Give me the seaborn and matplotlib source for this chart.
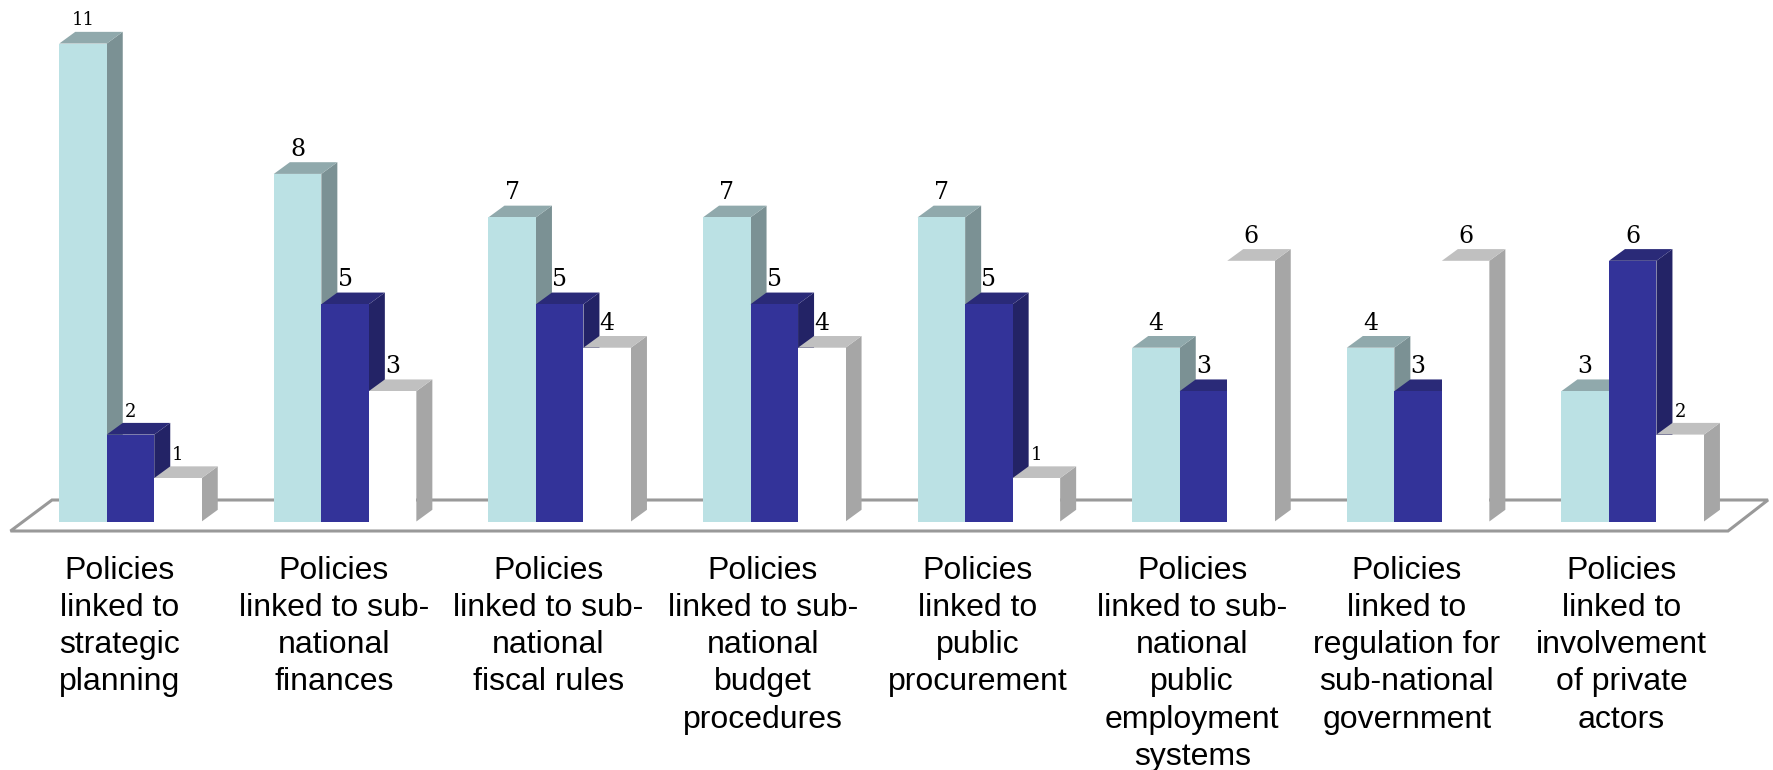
import matplotlib
matplotlib.use("Agg")
import matplotlib.pyplot as plt
from matplotlib.patches import Polygon
import pandas as pd
import seaborn as sns

categories = [
    "Policies\nlinked to\nstrategic\nplanning",
    "Policies\nlinked to sub-\nnational\nfinances",
    "Policies\nlinked to sub-\nnational\nfiscal rules",
    "Policies\nlinked to sub-\nnational\nbudget\nprocedures",
    "Policies\nlinked to\npublic\nprocurement",
    "Policies\nlinked to sub-\nnational\npublic\nemployment\nsystems",
    "Policies\nlinked to\nregulation for\nsub-national\ngovernment",
    "Policies\nlinked to\ninvolvement\nof private\nactors",
]
first_series = [11, 8, 7, 7, 7, 4, 4, 3]
second_series = [2, 5, 5, 5, 5, 3, 3, 6]
third_series = [1, 3, 4, 4, 1, 6, 6, 2]
series_names = ["First", "Second", "Third"]

front_colors = ["#BBE1E4", "#333399", "#FFFFFF"]
side_colors = ["#7B9194", "#232366", "#A6A6A6"]
top_colors = ["#90A9AC", "#2A2A78", "#C0C0C0"]

WIDTH, HEIGHT = 1773, 770
PX_PER_CATEGORY = 214.6
PX_PER_UNIT = 43.45
BASELINE_PX = 521.5
FIRST_CENTER_PX = 130.5
LABEL_SHIFT_PX = 11.3
DEPTH_X = 16 / PX_PER_CATEGORY
DEPTH_Y = 11.7 / PX_PER_UNIT

table = pd.DataFrame({
    "category": categories * 3,
    "series": [name for name in series_names for _ in categories],
    "value": first_series + second_series + third_series,
})

sns.set_theme(style="white")
plt.rcParams["font.family"] = ["Liberation Sans", "DejaVu Sans"]

fig = plt.figure(figsize=(WIDTH / 100, HEIGHT / 100), dpi=100)
ax = fig.add_axes([0, (HEIGHT - BASELINE_PX) / HEIGHT, 1, BASELINE_PX / HEIGHT])
ax.patch.set_visible(False)

sns.barplot(
    data=table, x="category", y="value", hue="series",
    hue_order=series_names, palette=front_colors, saturation=1,
    width=142.5 / PX_PER_CATEGORY, gap=0, linewidth=0, legend=False, ax=ax,
)

ax.set_xlim(-FIRST_CENTER_PX / PX_PER_CATEGORY,
            (WIDTH - FIRST_CENTER_PX) / PX_PER_CATEGORY)
ax.set_ylim(0, BASELINE_PX / PX_PER_UNIT)
ax.set_xlabel("")
ax.set_ylabel("")
ax.set_yticks([])
sns.despine(ax=ax, left=True, bottom=True)

# Category captions sit slightly left of their column groups
ax.set_xticks([i - LABEL_SHIFT_PX / PX_PER_CATEGORY for i in range(len(categories))],
              labels=categories)
ax.tick_params(axis="x", length=0, pad=25, labelsize=23, labelcolor="black")
for tick in ax.get_xticklabels():
    tick.set_linespacing(1.308)

# Ground plane behind the columns
floor_px = [(10.5, 531), (52, 500), (1768, 500), (1728, 531)]
ax.add_patch(Polygon(
    [(x / WIDTH, 1 - y / HEIGHT) for x, y in floor_px],
    closed=True, facecolor="white", edgecolor="#999999", linewidth=2.2,
    transform=fig.transFigure, clip_on=False, zorder=1,
))

# Extrude every column: side and top faces are derived from its front face
for s, container in enumerate(ax.containers):
    z = 2 + s
    for bar in container:
        x0, x1 = bar.get_x(), bar.get_x() + bar.get_width()
        top = bar.get_height()
        bar.set_zorder(z + 0.5)
        ax.add_patch(Polygon(
            [(x1, 0), (x1 + DEPTH_X, DEPTH_Y), (x1 + DEPTH_X, top + DEPTH_Y), (x1, top)],
            closed=True, facecolor=side_colors[s], edgecolor="none",
            clip_on=False, zorder=z,
        ))
        ax.add_patch(Polygon(
            [(x0, top), (x0 + DEPTH_X, top + DEPTH_Y),
             (x1 + DEPTH_X, top + DEPTH_Y), (x1, top)],
            closed=True, facecolor=top_colors[s], edgecolor="none",
            clip_on=False, zorder=z,
        ))
    labels = ax.bar_label(container, padding=13, family="DejaVu Serif", color="black", zorder=10)
    for text, bar in zip(labels, container):
        text.set_va("baseline")
        text.set_fontsize(13 if bar.get_height() in (1, 2, 11) else 17)

fig.savefig("out.png", dpi=100, facecolor="white")
